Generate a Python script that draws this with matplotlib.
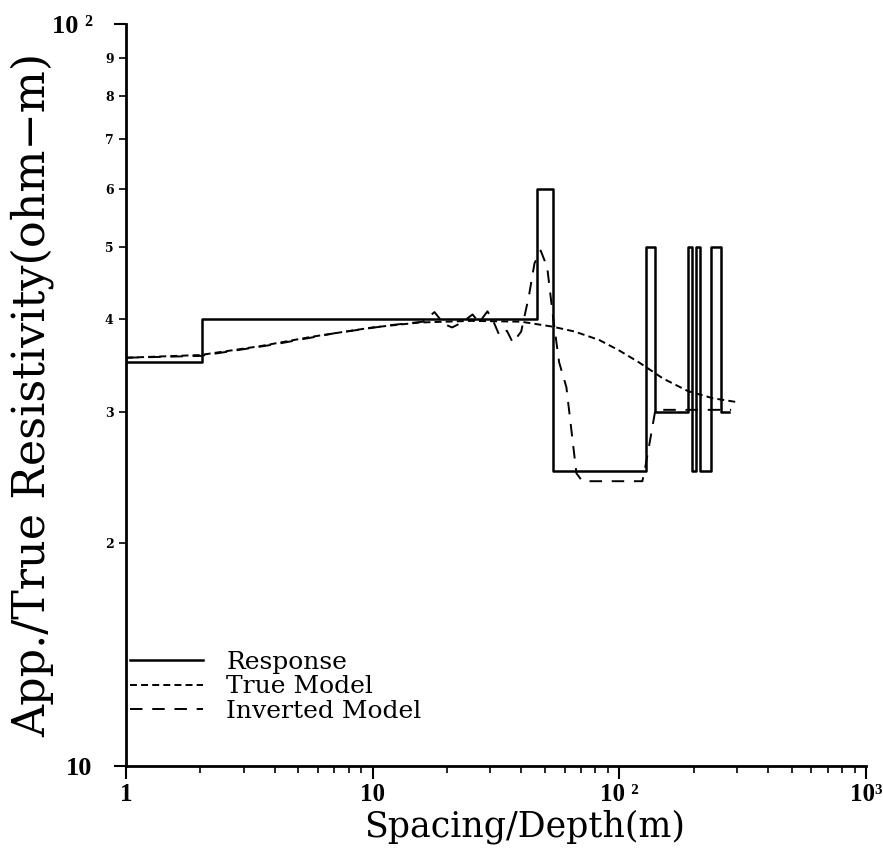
import matplotlib
matplotlib.use("Agg")
import matplotlib.pyplot as plt
from matplotlib.ticker import FixedLocator, FixedFormatter, NullFormatter

plt.rcParams['font.family'] = 'DejaVu Serif'
plt.rcParams['lines.scale_dashes'] = False

# Response (blocky), drawn as steps-post
resp_x = [1, 2.03, 46.3, 53.7, 128.6, 139.9, 190, 197.5, 205, 213, 236, 259, 279]
resp_y = [35, 40, 60, 25, 50, 30, 50, 25, 50, 25, 50, 30, 30]

# True model (smooth)
true_x = [1, 2, 3.5, 5.7, 10, 15.5, 25, 40, 53.5, 66, 83, 100, 120, 150, 190, 240, 306]
true_y = [35.5, 35.8, 36.8, 37.9, 39.0, 39.6, 39.8, 39.7, 39.1, 38.5, 37.5, 36.3, 35.0, 33.3, 32.0, 31.3, 30.9]

# Inverted model
inv_x = [1, 2, 4, 7, 12, 16, 17.8, 19.5, 21, 23, 25.4, 27, 29.2, 31, 32.7, 35, 37,
         40, 43, 45.3, 48, 51, 54, 57, 61, 67, 70.8, 124, 128, 132, 140, 284]
inv_y = [35.5, 35.7, 37, 38.3, 39.3, 39.7, 40.9, 39.4, 39.0, 39.6, 40.6, 39.6, 41.0, 39.6, 38.0, 38.6, 37.2,
         38.5, 43, 47.6, 49.5, 47, 40, 35, 32.4, 24.8, 24.2, 24.2, 25.5, 27, 30.2, 30.2]

x_major = [1, 10, 100, 1000]
x_major_labels = ['1', '10', '10 ²', '10³']
y_major = [10, 100]
y_major_labels = ['10', '10 ²']
y_minor = [20, 30, 40, 50, 60, 70, 80, 90]
y_minor_labels = ['2', '3', '4', '5', '6', '7', '8', '9']
x_minor = [m * d for d in (1, 10, 100) for m in range(2, 10)]

fig = plt.figure(figsize=(8.83, 8.5), dpi=100)
ax = fig.add_axes([126 / 883, 84 / 850, 740 / 883, 742 / 850])

ax.plot(resp_x, resp_y, color='black', lw=1.8, drawstyle='steps-post', label='Response')
ax.plot(true_x, true_y, color='black', lw=1.4, dashes=(5, 3), label='True Model')
ax.plot(inv_x, inv_y, color='black', lw=1.4, dashes=(9, 7), label='Inverted Model')

ax.set_xscale('log')
ax.set_yscale('log')
ax.set_xlim(1, 1000)
ax.set_ylim(10, 100)

ax.xaxis.set_major_locator(FixedLocator(x_major))
ax.xaxis.set_major_formatter(FixedFormatter(x_major_labels))
ax.xaxis.set_minor_locator(FixedLocator(x_minor))
ax.xaxis.set_minor_formatter(NullFormatter())
ax.yaxis.set_major_locator(FixedLocator(y_major))
ax.yaxis.set_major_formatter(FixedFormatter(y_major_labels))
ax.yaxis.set_minor_locator(FixedLocator(y_minor))
ax.yaxis.set_minor_formatter(FixedFormatter(y_minor_labels))

for s in ['top', 'right']:
    ax.spines[s].set_visible(False)
for s in ['left', 'bottom']:
    ax.spines[s].set_linewidth(2)

ax.tick_params(which='major', direction='out', length=9, width=1.5, labelsize=19)
ax.tick_params(axis='x', which='major', pad=3, labelsize=18)
ax.tick_params(axis='y', which='major', pad=15)
ax.tick_params(which='minor', direction='out', length=5, width=1.2)
ax.tick_params(axis='y', which='minor', labelsize=9, pad=4)
for lbl in ax.get_xticklabels() + ax.get_yticklabels():
    lbl.set_fontfamily('Liberation Serif')
    lbl.set_fontweight('bold')
for lbl in ax.get_yminorticklabels():
    lbl.set_fontweight('bold')

ax.set_xlabel('Spacing/Depth(m)', fontsize=25)
ax.xaxis.set_label_coords(0.539, -0.058)
ax.set_ylabel('App./True Resistivity(ohm\u2212m)', fontsize=32)
ax.yaxis.set_label_coords(-0.097, 0.5)

leg = ax.legend(loc='upper left', bbox_to_anchor=(130 / 883, 1 - 651 / 850),
                bbox_transform=fig.transFigure, frameon=False, fontsize=18,
                handlelength=2.9, handletextpad=0.95, labelspacing=0.05,
                borderpad=0, borderaxespad=0)

fig.savefig('out.png', dpi=100)
